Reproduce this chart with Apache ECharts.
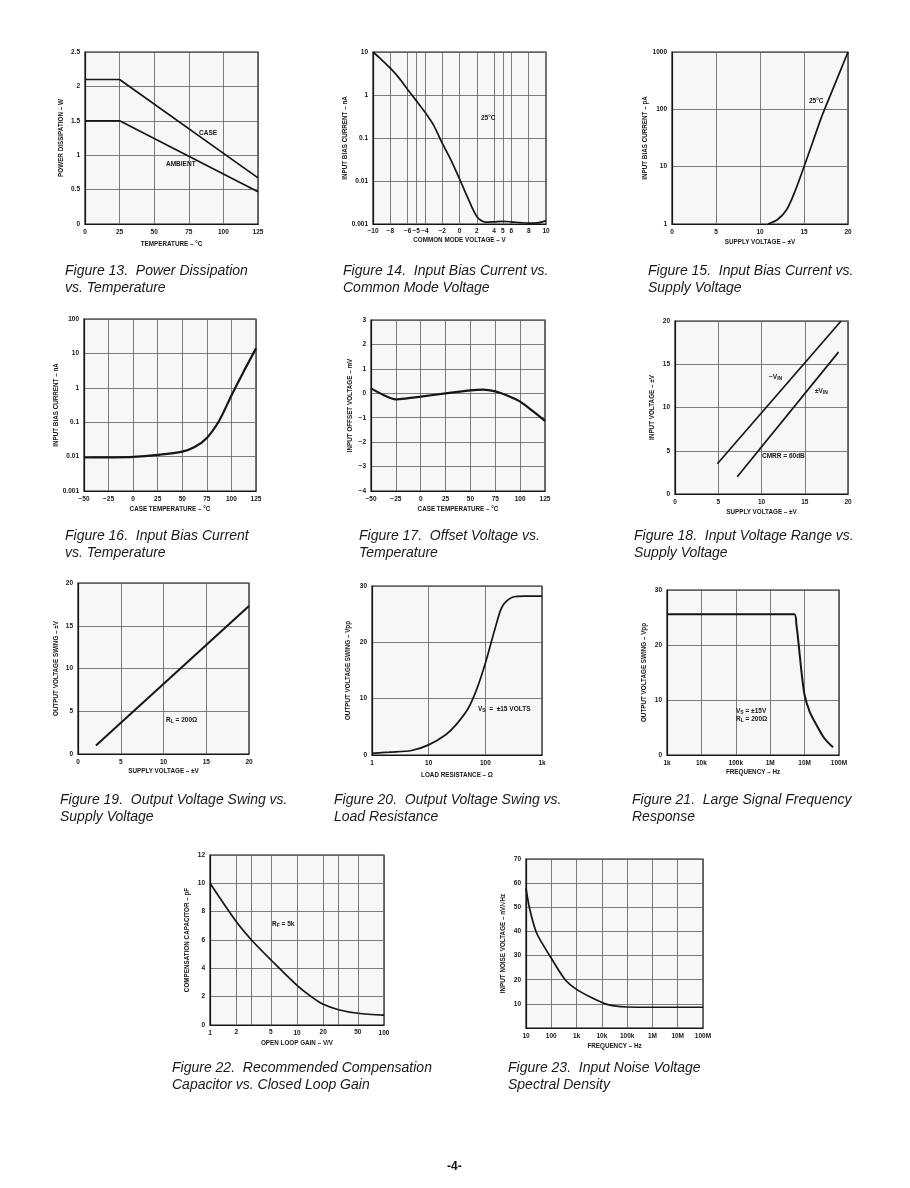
<!DOCTYPE html>
<html><head><meta charset="utf-8">
<script src="https://cdn.jsdelivr.net/npm/echarts/dist/echarts.min.js"></script>
<style>html,body{margin:0;padding:0;background:#fff}#c{width:910px;height:1188px}</style>
</head><body><div id="c"></div>
<script>
// ---------- DATA ----------
// Fig 13 Power dissipation vs temperature
const f13Temp = [0, 25, 125];
const f13Case = [2.1, 2.1, 0.67];
const f13Ambient = [1.5, 1.5, 0.47];
// Fig 14 Input bias current vs common mode voltage (nA)
const f14Vcm = [-10,-9,-8,-7,-6,-5,-4,-3,-2,-1,0,1,2,3,4,5,6,7,8,9,10];
const f14Ib = [10,6.6,4.2,2.5,1.35,0.74,0.40,0.2,0.076,0.031,0.0112,0.0039,0.0015,0.0011,0.00112,0.00115,0.00112,0.00108,0.00105,0.00106,0.0012];
const f14Ticks = [-10,-8,-6,-5,-4,-2,0,2,4,5,6,8,10];
// Fig 15 Input bias current vs supply voltage (pA)
const f15Vs = [10.9, 12, 13, 14, 15, 16, 17, 18, 19, 20];
const f15Ib = [1, 1.2, 1.75, 3.8, 10, 27, 74, 177, 420, 1000];
// Fig 16 Input bias current vs temperature (nA)
const f16Temp = [-50,-25,0,25,50,62.5,75,87.5,100,112.5,125];
const f16Ib = [0.0094,0.0095,0.0098,0.0112,0.014,0.019,0.035,0.11,0.6,3.0,14];
// Fig 17 Offset voltage vs temperature (mV)
const f17Temp = [-50,-37.5,-25,-12.5,0,25,50,62.5,75,87.5,100,112.5,125];
const f17Vos = [0.2,-0.07,-0.25,-0.2,-0.14,0,0.12,0.15,0.08,-0.1,-0.34,-0.72,-1.13];
// Fig 18 Input voltage range vs supply voltage
const f18MinusX = [4.9, 19.2];
const f18MinusY = [3.5, 20];
const f18PlusX = [7.2, 18.9];
const f18PlusY = [2.0, 16.4];
// Fig 19 Output voltage swing vs supply voltage
const f19Vs = [2.1, 20];
const f19Swing = [1.0, 17.3];
// Fig 20 Output voltage swing vs load resistance
const f20RL = [1,2,5,10,20,30,50,70,100,150,200,300,500,1000];
const f20Vout = [0.3,0.5,0.8,1.8,3.6,5.3,8.3,11.6,16.3,22.6,26.4,28.0,28.2,28.2];
// Fig 21 Large signal frequency response
const f21Freq = [1e3,1e4,1e5,1e6,5e6,5.8e6,6.9e6,8.1e6,1e7,1.4e7,2.2e7,3.8e7,6.7e7];
const f21Swing = [25.6,25.6,25.6,25.6,25.6,23.6,19.4,15.2,10.9,7.9,5.5,3.0,1.4];
// Fig 22 Compensation capacitor vs gain
const f22Gain = [1,2,3,5,10,15,20,30,50,100];
const f22Cap = [10,7.3,6.0,4.6,2.8,1.95,1.46,1.08,0.83,0.7];
const f22ExtraTicks = [2,5,20,50];
const f22ExtraGrid = [2,3,5,20,30,50];
// Fig 23 Input noise voltage spectral density
const f23Freq = [10,13.5,24.8,50,86,355,1000,3500,13500,30000,1e5,1e6,1e7,1e8];
const f23Noise = [58,50,40,34,30,20,16,12.8,10,9.2,8.7,8.6,8.6,8.6];

// ---------- STYLE / LAYOUT ----------
const INK = '#161616', GRIDC = '#5c5c5c';
const FONT = '"Liberation Sans", Arial, sans-serif';
const tickFont = {fontSize: 6.5, fontWeight: 'bold', color: INK, fontFamily: FONT};
const R = [
 [85,52,258,224],[373,52,546,224],[672,52,848,224],
 [84,319,256,491],[371,320,545,491],[675,321,848,494],
 [78,583,249,754],[372,586,542,755],[667,590,839,755],
 [210,855,384,1025],[526,859,703,1028]
];
const grids = R.map(r => ({left:r[0], top:r[1], width:r[2]-r[0], height:r[3]-r[1],
  show:true, backgroundColor:'#f7f7f5', borderColor:INK, borderWidth:1.2, containLabel:false}));

function fmtSI(v){
  if (v >= 1e6) return (v/1e6) + 'M';
  if (v >= 1e3) return (v/1e3) + 'k';
  return String(v);
}
function plain(v){ return String(+v); }
function neg(v){ return v < 0 ? '\u2212' + Math.abs(v) : String(v); }

function ax(gi, o, isY){
  const baseLabel = Object.assign({margin: 5, showMinLabel: true, showMaxLabel: true, hideOverlap: false}, tickFont);
  const base = {
    gridIndex: gi, type: 'value',
    axisLine: {show: true, onZero: false, lineStyle: {color: INK, width: 1.2}},
    axisTick: {show: false},
    splitLine: {show: true, lineStyle: {color: GRIDC, width: 0.8}},
    nameLocation: 'middle', nameGap: isY ? 21 : 15,
    nameTextStyle: Object.assign({}, tickFont, {fontSize: 6.3}),
  };
  const out = Object.assign(base, o);
  out.axisLabel = Object.assign({}, baseLabel, o.axisLabel || {});
  return out;
}

const xAxes = [
  ax(0,{min:0,max:125,interval:25,name:'TEMPERATURE \u2013 \u00b0C',nameGap:17}),
  ax(1,{min:-10,max:10,interval:1,name:'COMMON MODE VOLTAGE \u2013 V',nameGap:13,splitLine:{show:false},
        axisLabel:{margin:4,interval:0,formatter:v=>f14Ticks.indexOf(v)>=0?neg(v):''}}),
  ax(2,{min:0,max:20,interval:5,name:'SUPPLY VOLTAGE \u2013 \u00b1V',nameGap:15}),
  ax(3,{min:-50,max:125,interval:25,name:'CASE TEMPERATURE \u2013 \u00b0C',nameGap:15,axisLabel:{formatter:neg}}),
  ax(4,{min:-50,max:125,interval:25,name:'CASE TEMPERATURE \u2013 \u00b0C',nameGap:15,axisLabel:{formatter:neg}}),
  ax(5,{min:0,max:20,interval:5,name:'SUPPLY VOLTAGE \u2013 \u00b1V',nameGap:15}),
  ax(6,{min:0,max:20,interval:5,name:'SUPPLY VOLTAGE \u2013 \u00b1V',nameGap:14}),
  ax(7,{type:'log',logBase:10,min:1,max:1000,name:'LOAD RESISTANCE \u2013 \u03a9',nameGap:17,axisLabel:{formatter:fmtSI}}),
  ax(8,{type:'log',logBase:10,min:1e3,max:1e8,name:'FREQUENCY \u2013 Hz',nameGap:14,axisLabel:{formatter:fmtSI}}),
  ax(9,{type:'log',logBase:10,min:1,max:100,name:'OPEN LOOP GAIN \u2013 V/V',nameGap:15,axisLabel:{formatter:plain}}),
  ax(10,{type:'log',logBase:10,min:10,max:1e8,name:'FREQUENCY \u2013 Hz',nameGap:15,axisLabel:{formatter:fmtSI}}),
];
const yAxes = [
  ax(0,{min:0,max:2.5,interval:0.5,name:'POWER DISSIPATION \u2013 W'},true),
  ax(1,{type:'log',logBase:10,min:0.001,max:10,name:'INPUT BIAS CURRENT \u2013 nA',nameGap:24,axisLabel:{formatter:plain}},true),
  ax(2,{type:'log',logBase:10,min:1,max:1000,name:'INPUT BIAS CURRENT \u2013 pA',nameGap:22,axisLabel:{formatter:plain}},true),
  ax(3,{type:'log',logBase:10,min:0.001,max:100,name:'INPUT BIAS CURRENT \u2013 nA',nameGap:24,axisLabel:{formatter:plain}},true),
  ax(4,{min:-4,max:3,interval:1,name:'INPUT OFFSET VOLTAGE \u2013 mV',nameGap:18,axisLabel:{formatter:neg}},true),
  ax(5,{min:0,max:20,interval:5,name:'INPUT VOLTAGE \u2013 \u00b1V',nameGap:20},true),
  ax(6,{min:0,max:20,interval:5,name:'OUTPUT VOLTAGE SWING \u2013 \u00b1V',nameGap:19},true),
  ax(7,{min:0,max:30,interval:10,name:'OUTPUT VOLTAGE SWING \u2013 Vpp',nameGap:21},true),
  ax(8,{min:0,max:30,interval:10,name:'OUTPUT VOLTAGE SWING \u2013 Vpp',nameGap:20},true),
  ax(9,{min:0,max:12,interval:2,name:'COMPENSATION CAPACITOR \u2013 pF',nameGap:20},true),
  ax(10,{min:0,max:70,interval:10,name:'INPUT NOISE VOLTAGE \u2013 nV/\u221aHz',nameGap:20,axisLabel:{formatter:v=>v===0?'':String(v)}},true),
];

function pairs(xs, ys){ return xs.map((x,i)=>[x, ys[i]]); }
function line(gi, xs, ys, smooth, extra){
  return Object.assign({
    type:'line', xAxisIndex:gi, yAxisIndex:gi, data:pairs(xs,ys),
    showSymbol:false, symbol:'none', smooth: smooth ? 0.3 : false,
    lineStyle:{color:INK, width:1.7}, silent:true, animation:false, z:5
  }, extra || {});
}
function vgrid(values, labels){
  return {
    silent:true, symbol:['none','none'], animation:false,
    lineStyle:{color:GRIDC, width:0.8, type:'solid'},
    label:{show:!!labels, position:'start', distance:4, formatter:p=> (labels && labels.indexOf(p.value)>=0) ? String(p.value) : '',
           fontSize:6.5, fontWeight:'bold', color:INK, fontFamily:FONT},
    data: values.map(v=>({xAxis:v}))
  };
}

const series = [
  line(0, f13Temp, f13Case, false),
  line(0, f13Temp, f13Ambient, false),
  line(1, f14Vcm, f14Ib, true, {markLine: vgrid([-8,-6,-5,-4,-2,0,2,4,5,6,8])}),
  line(2, f15Vs, f15Ib, true),
  line(3, f16Temp, f16Ib, true, {lineStyle:{color:INK,width:2.2}}),
  line(4, f17Temp, f17Vos, true, {lineStyle:{color:INK,width:2.2}}),
  line(5, f18MinusX, f18MinusY, false),
  line(5, f18PlusX, f18PlusY, false),
  line(6, f19Vs, f19Swing, false, {lineStyle:{color:INK,width:2}}),
  line(7, f20RL, f20Vout, true),
  line(8, f21Freq, f21Swing, true, {lineStyle:{color:INK,width:2}}),
  line(9, f22Gain, f22Cap, true, {markLine: vgrid(f22ExtraGrid, f22ExtraTicks)}),
  line(10, f23Freq, f23Noise, true),
];

// ---------- TEXT ----------
const capStyle = {fontSize:14, fontStyle:'italic', fill:'#1a1a1a',
  fontFamily:'"Liberation Sans Narrow","Liberation Sans",Arial,sans-serif'};
function cap(x, y, l1, l2){
  return [
    {type:'text', left:x, top:y, style:Object.assign({text:l1}, capStyle)},
    {type:'text', left:x, top:y+17, style:Object.assign({text:l2}, capStyle)}
  ];
}
const annStyle = {fontSize:6.5, fontWeight:'bold', fill:INK, fontFamily:FONT};
function ann(x, y, text, rich){
  return {type:'text', left:x, top:y, z:10, style:Object.assign({text:text, rich:rich||{}}, annStyle)};
}
const sub = {s:{fontSize:5, fontWeight:'bold', fill:INK, verticalAlign:'bottom', padding:[3,0,0,0]}};

const graphic = [].concat(
  cap(65,264,'Figure 13.  Power Dissipation','vs. Temperature'),
  cap(343,264,'Figure 14.  Input Bias Current vs.','Common Mode Voltage'),
  cap(648,264,'Figure 15.  Input Bias Current vs.','Supply Voltage'),
  cap(65,529,'Figure 16.  Input Bias Current','vs. Temperature'),
  cap(359,529,'Figure 17.  Offset Voltage vs.','Temperature'),
  cap(634,529,'Figure 18.  Input Voltage Range vs.','Supply Voltage'),
  cap(60,793,'Figure 19.  Output Voltage Swing vs.','Supply Voltage'),
  cap(334,793,'Figure 20.  Output Voltage Swing vs.','Load Resistance'),
  cap(632,793,'Figure 21.  Large Signal Frequency','Response'),
  cap(172,1061,'Figure 22.  Recommended Compensation','Capacitor vs. Closed Loop Gain'),
  cap(508,1061,'Figure 23.  Input Noise Voltage','Spectral Density'),
  [
    ann(199,130,'CASE'),
    ann(166,161,'AMBIENT'),
    ann(481,115,'25\u00b0C'),
    ann(809,98,'25\u00b0C'),
    ann(769,374,'\u2212V{s|IN}', sub),
    ann(815,388,'\u00b1V{s|IN}', sub),
    ann(762,453,'CMRR = 60dB'),
    ann(166,717,'R{s|L} = 200\u03a9', sub),
    ann(478,706,'V{s|S}  =  \u00b115 VOLTS', sub),
    ann(736,708,'V{s|S} = \u00b115V', sub),
    ann(736,716,'R{s|L} = 200\u03a9', sub),
    ann(272,921,'R{s|F} = 5k', sub),
    {type:'text', left:447, top:1161, style:{text:'-4-', fontSize:12, fontWeight:'bold', fill:'#111', fontFamily:FONT}}
  ]
);

const chart = echarts.init(document.getElementById('c'), null, {renderer:'canvas', width:910, height:1188});
chart.setOption({
  backgroundColor:'#ffffff',
  animation:false,
  grid: grids,
  xAxis: xAxes,
  yAxis: yAxes,
  series: series,
  graphic: graphic
});
</script></body></html>
